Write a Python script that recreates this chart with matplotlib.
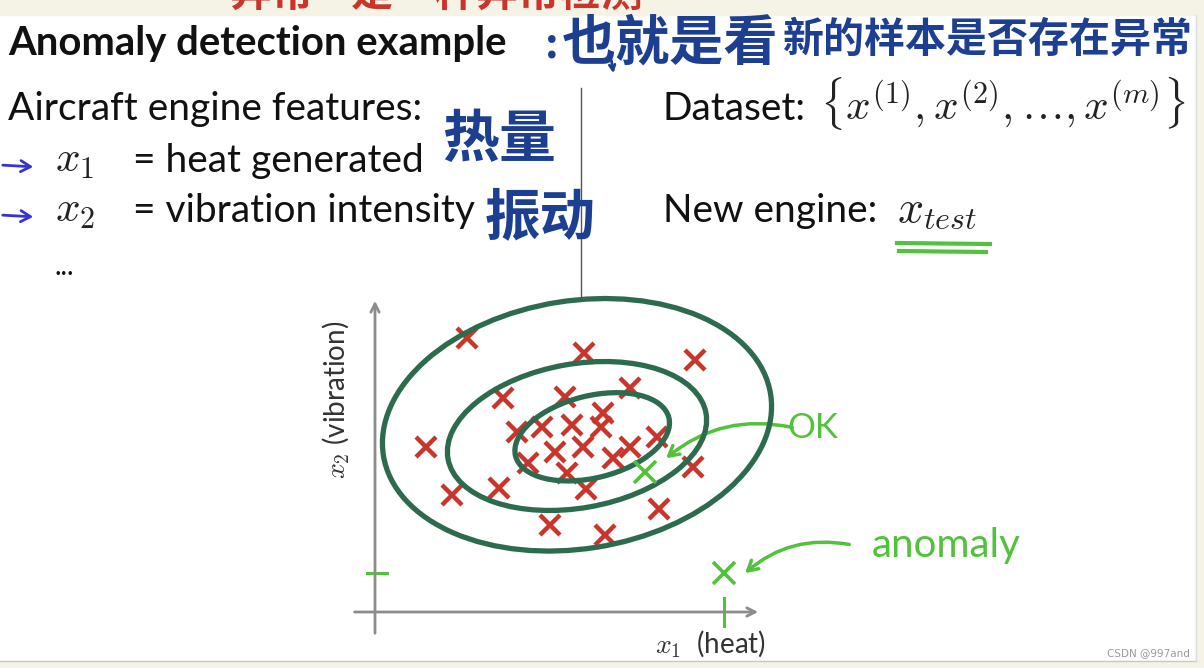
import matplotlib
matplotlib.use("Agg")
import matplotlib.pyplot as plt
from matplotlib.patches import Ellipse, Rectangle

plt.rcParams["mathtext.fontset"] = "cm"
LATIN = ["Lato", "DejaVu Sans"]
CJK = ["Noto Sans CJK SC", "DejaVu Sans"]

# normal training examples (x1 = heat, x2 = vibration)
normal_x1 = [2.30, 5.22, 8.00, 3.20, 4.75, 6.38, 5.70, 3.55, 4.18, 4.93, 5.65, 1.28, 4.50,
             5.20, 6.38, 7.05, 5.95, 3.83, 4.80, 7.95, 1.93, 3.10, 5.28, 7.10, 4.38, 5.75]
normal_x2 = [6.85, 6.48, 6.30, 5.35, 5.38, 5.60, 4.98, 4.50, 4.63, 4.68, 4.63, 4.13, 4.00,
             4.13, 4.13, 4.38, 3.85, 3.73, 3.48, 3.63, 2.93, 3.10, 3.08, 2.58, 2.18, 1.93]

# new test engines: first is OK, second is an anomaly
test_x1 = [6.75, 8.73]
test_x2 = [3.50, 0.98]

# density contours: centre x1, centre x2, width, height, angle
contour_cx = [5.05, 5.05, 5.43]
contour_cy = [4.68, 4.40, 4.38]
contour_w = [9.80, 6.55, 3.95]
contour_h = [6.20, 3.60, 2.05]
contour_angle = [9, 10, 14]

red = "#c9342b"
green = "#52c23c"
dkgreen = "#2d6b4e"
blue = "#1d3f92"
gray = "#8c8c8c"

fig = plt.figure(figsize=(12.04, 6.68), dpi=100)

# background in pixel coordinates for the slide layout
bg = fig.add_axes([0, 0, 1, 1])
bg.set_xlim(0, 1204)
bg.set_ylim(668, 0)
bg.axis("off")
bg.add_patch(Rectangle((0, 0), 1204, 15, color="#f4f3e6", zorder=0))
bg.add_patch(Rectangle((1196, 0), 8, 668, color="#f4f3e6", zorder=0))
bg.add_patch(Rectangle((0, 661), 1204, 7, color="#f4f3e6", zorder=0))
bg.plot([0, 1196], [661, 661], color="#c8c8c8", lw=1)
bg.plot([1196, 1196], [15, 661], color="#dcdcdc", lw=1)

# red handwriting, only its lower edge is inside the slide
bg.text(230, 15, "异常    是一种异常检测", color=red, fontsize=30, family=CJK,
        weight="bold", va="bottom", ha="left", clip_on=True)

# left column text
bg.text(8, 55, "Anomaly detection example", fontsize=28.8, weight="bold", family=LATIN,
        color="#111111", va="baseline")
bg.text(8, 120, "Aircraft engine features:", fontsize=28, family=LATIN, color="#111111",
        va="baseline")
bg.text(55, 172, "$x_1$", fontsize=31, color="#222222", va="baseline")
bg.text(133, 172, "= heat generated", fontsize=28, family=LATIN, color="#111111", va="baseline")
bg.text(55, 222, "$x_2$", fontsize=31, color="#222222", va="baseline")
bg.text(133, 222, "= vibration intensity", fontsize=28, family=LATIN, color="#111111",
        va="baseline")
bg.text(55, 275, "...", fontsize=20, family=LATIN, color="#111111", va="baseline")

# blue hand-drawn arrows
for yy in [165, 215]:
    bg.annotate("", xy=(36, yy + 2), xytext=(0, yy),
                arrowprops=dict(arrowstyle="->,head_length=0.7,head_width=0.4",
                                color="#3434d4", lw=2))

# separator line
bg.plot([581, 581], [88, 298], color="#555555", lw=1)

# right column text
bg.text(663, 120, "Dataset:", fontsize=28, family=LATIN, color="#111111", va="baseline")
bg.text(820, 120, r"$\{x^{(1)},x^{(2)},\ldots,x^{(m)}\}$", fontsize=31, color="#222222",
        va="baseline")
bg.text(663, 222, "New engine:", fontsize=28, family=LATIN, color="#111111", va="baseline")
bg.text(897, 222, "$x_{test}$", fontsize=33, color="#222222", va="baseline")
bg.plot([897, 990], [243, 244], color=green, lw=3)
bg.plot([899, 986], [251, 252], color=green, lw=3)

# blue handwritten notes
bg.text(545, 45, ":", fontsize=30, family=CJK, color=blue, weight="bold", va="center")
bg.text(562, 44, "也就是看", fontsize=39, family=CJK, color=blue, weight="bold", va="center")
bg.text(783, 40, "新的样本是否存在异常", fontsize=29.5, family=CJK, color=blue, weight="bold",
        va="center")
bg.annotate("", xy=(614, 76), xytext=(611, 58),
            arrowprops=dict(arrowstyle="->", color=blue, lw=2))
bg.text(442, 140, "热量", fontsize=41, family=CJK, color=blue, weight="bold", va="center")
bg.text(485, 218, "振动", fontsize=40, family=CJK, color=blue, weight="bold", va="center")

# green handwritten labels
bg.text(787, 428, "OK", fontsize=25, family=LATIN, color=green, va="center")
bg.text(872, 545, "anomaly", fontsize=29, family=LATIN, color=green, va="center")
bg.annotate("", xy=(664, 460), xytext=(795, 428),
            arrowprops=dict(arrowstyle="->,head_length=0.7,head_width=0.4", color=green,
                            lw=2.5, connectionstyle="arc3,rad=0.25"))
bg.annotate("", xy=(743, 575), xytext=(852, 545),
            arrowprops=dict(arrowstyle="->,head_length=0.7,head_width=0.4", color=green,
                            lw=2.5, connectionstyle="arc3,rad=0.25"))

# axis labels of the sketch
bg.text(336, 400, "$x_2$ (vibration)", fontsize=20, rotation=90, color="#333333",
        family=LATIN, ha="center", va="center")
bg.text(710, 653, "$x_1$  (heat)", fontsize=20, color="#333333", family=LATIN,
        ha="center", va="baseline")

# watermark
bg.text(1190, 656, "CSDN @997and", fontsize=7.5, color="#999999", ha="right",
        va="baseline", family=["DejaVu Sans"])

# the scatter sketch
ax = fig.add_axes([340 / 1204, 18 / 668, 440 / 1204, 360 / 668])
ax.set_xlim(-0.875, 10.125)
ax.set_ylim(-0.95, 8.05)
ax.axis("off")
ax.patch.set_alpha(0)

ax.annotate("", xy=(9.65, 0), xytext=(-0.58, 0),
            arrowprops=dict(arrowstyle="->,head_length=0.6,head_width=0.3", color=gray, lw=2))
ax.annotate("", xy=(0, 7.85), xytext=(0, -0.6),
            arrowprops=dict(arrowstyle="->,head_length=0.6,head_width=0.3", color=gray, lw=2))

for cx, cy, w, h, a in zip(contour_cx, contour_cy, contour_w, contour_h, contour_angle):
    ax.add_patch(Ellipse((cx, cy), w, h, angle=a, fill=False, ec=dkgreen, lw=3.8, zorder=3))

ax.plot(normal_x1, normal_x2, "x", color=red, ms=15, mew=3.2, zorder=2)
ax.plot(test_x1, test_x2, "x", color=green, ms=16, mew=2.6, zorder=4)

# green ticks marking the anomaly's coordinates
ax.plot([-0.2, 0.3], [test_x2[1], test_x2[1]], color=green, lw=2.2)
ax.plot([test_x1[1], test_x1[1]], [-0.35, 0.35], color=green, lw=2.2)

fig.savefig("out.png", dpi=100)
